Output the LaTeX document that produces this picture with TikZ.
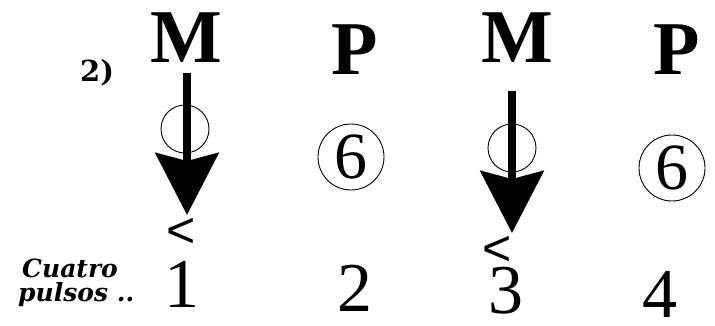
\documentclass[tikz,border=0pt]{standalone}
\usepackage{fontspec}
\setmainfont{Liberation Serif}
\newfontfamily\lsans{Liberation Sans}
\newfontfamily\wideserif{DejaVu Serif}
\usetikzlibrary{arrows.meta}
\begin{document}
\begin{tikzpicture}[x=1pt,y=-1pt,
  big/.style={font=\fontsize{76}{76}\selectfont\bfseries, inner sep=0, anchor=base},
  num/.style={font=\fontsize{70}{70}\selectfont, inner sep=0, anchor=base},
  ring/.style={draw, circle, line width=0.9pt, inner sep=0, minimum size=#1},
  lessthan/.style={font=\lsans\fontsize{50}{50}\selectfont, inner sep=0},
  ital/.style={font=\wideserif\fontsize{25}{25}\selectfont\bfseries\itshape, inner sep=0, anchor=base west},
  beat/.style={line width=8pt, -{Stealth[width=63pt,length=62pt,inset=8pt]}}]
\useasboundingbox (0,0) rectangle (715,326);
\node[font=\wideserif\fontsize{29}{29}\selectfont\bfseries, inner sep=0, anchor=base west] (lab) at (80,82) {2)};
\node[big] (m1) at (186,63) {M};
\node[big] (p1) at (355,75) {P};
\node[big] (m2) at (517,63) {M};
\node[big] (p2) at (677,75) {P};
% empty rings under the arrows
\node[ring=48pt] (r1) at (185,129) {};
\node[ring=48pt] (r2) at (512,148) {};
% circled sixes
\node[ring=66pt, font=\fontsize{66}{66}\selectfont] (s1) at (351,157) {6};
\node[ring=66pt, font=\fontsize{66}{66}\selectfont] (s2) at (672,168) {6};
% arrows
\coordinate (a1s) at (187,73);
\coordinate (a1e) at (187,215);
\coordinate (a2s) at (512,91);
\coordinate (a2e) at (512,233);
\draw[beat] (a1s) -- (a1e);
\draw[beat] (a2s) -- (a2e);
% accent marks
\node[lessthan] (l1) at (181,233) {<};
\node[lessthan] (l2) at (497,251) {<};
% beat numbers
\node[num] (n1) at (182,307) {1};
\node[num] (n2) at (355,311) {2};
\node[num] (n3) at (506,313) {3};
\node[num] (n4) at (660,317) {4};
% caption
\node[ital] (c1) at (22,277) {Cuatro};
\node[ital] (c2) at (18,301) {pulsos ..};
\end{tikzpicture}
\end{document}
